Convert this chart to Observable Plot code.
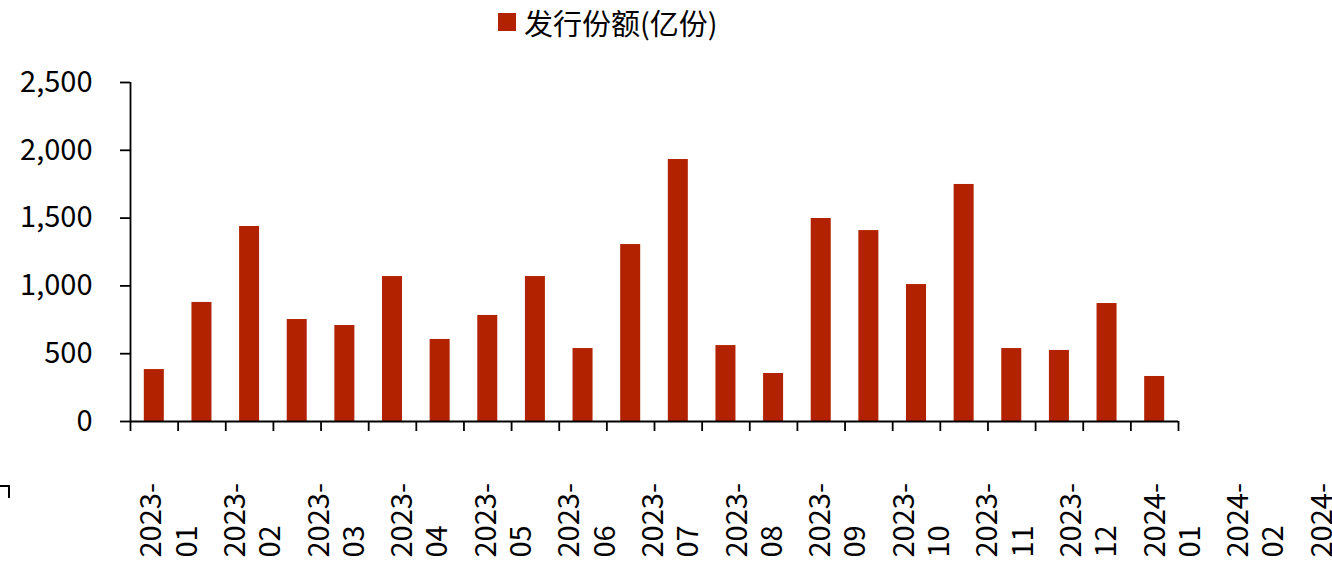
<!DOCTYPE html>
<html>
<head>
<meta charset="utf-8">
<script src="https://cdn.jsdelivr.net/npm/d3@7"></script>
<script src="https://cdn.jsdelivr.net/npm/@observablehq/plot@0.6"></script>
<style>
  html, body { margin: 0; padding: 0; background: #fff; }
  #wrap { position: relative; width: 1332px; height: 561px; overflow: hidden; font-family: "Noto Sans CJK SC", "DejaVu Sans", sans-serif; }
  #legend { position: absolute; left: 498px; top: 0px; height: 44px; display: flex; align-items: center; font-size: 29px; color: #000; white-space: nowrap; }
  #legend .sw { width: 18px; height: 18px; background: #B22200; margin-right: 8px; }
  #corner { position: absolute; left: -2px; top: 485px; width: 10px; height: 11px; border-top: 2px solid #000; border-right: 2px solid #000; }
  #chart { position: absolute; left: 0; top: 0; }
</style>
</head>
<body>
<div id="wrap">
  <div id="chart"></div>
  <div id="legend"><div class="sw"></div><span>发行份额(亿份)</span></div>
  <div id="corner"></div>
</div>
<script>
// Series: 发行份额(亿份), one value per bar (22 bars)
const seriesName = "发行份额(亿份)";
const values = [383, 878, 1438, 752, 708, 1069, 605, 782, 1069, 538, 1305, 1932, 560, 354, 1497, 1408, 1010, 1748, 538, 524, 870, 332];
// Category tick labels as printed on the axis
const tickLabels = ["2023-\n01", "2023-\n02", "2023-\n03", "2023-\n04", "2023-\n05", "2023-\n06", "2023-\n07", "2023-\n08", "2023-\n09", "2023-\n10", "2023-\n11", "2023-\n12", "2024-\n01", "2024-\n02", "2024-\n03"];
const yTicks = [0, 500, 1000, 1500, 2000, 2500];

const bars = values.map((v, i) => ({i, value: v}));
const labels = tickLabels.map((t, k) => ({t, k}));
const barColor = "#B22200";
const font = "'Noto Sans CJK SC', 'DejaVu Sans', sans-serif";

const chart = Plot.plot({
  width: 1332,
  height: 561,
  marginTop: 82,
  marginBottom: 140,
  marginLeft: 130,
  marginRight: 154,
  style: {fontFamily: font, fontSize: "29px", color: "#000", background: "transparent", overflow: "visible"},
  x: {domain: [0, values.length]},
  y: {domain: [0, 2500]},
  marks: [
    Plot.rectY(bars, {x1: d => d.i + 0.29, x2: d => d.i + 0.71, y: "value", fill: barColor}),
    Plot.axisY(yTicks, {label: null, tickSize: 10, tickPadding: 28, tickFormat: d3.format(","), fontSize: 29, stroke: "#000", strokeWidth: 1.8, strokeOpacity: 1, fill: "#000"}),
    Plot.ruleX([0], {y1: 0, y2: 2500, stroke: "#000", strokeWidth: 1.8}),
    Plot.ruleY([0], {stroke: "#000", strokeWidth: 1.8}),
    Plot.axisX(d3.range(values.length + 1), {label: null, tickSize: 10, tickFormat: () => "", stroke: "#000", strokeWidth: 1.8, strokeOpacity: 1}),
    Plot.text(labels, {
      x: d => 0.78 + 1.755 * d.k,
      text: "t",
      frameAnchor: "bottom",
      dy: 136,
      rotate: -90,
      textAnchor: "start",
      lineAnchor: "middle",
      lineHeight: 1.22,
      fontSize: 29,
      fill: "#000"
    })
  ]
});
document.getElementById("chart").appendChild(chart);
</script>
</body>
</html>
